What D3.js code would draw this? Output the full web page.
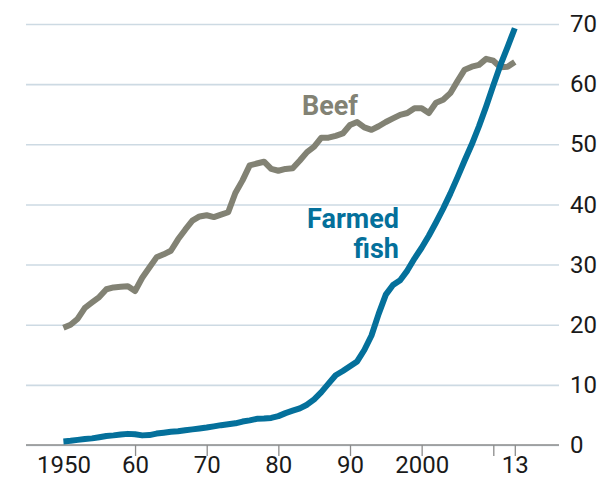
<!DOCTYPE html>
<html>
<head>
<meta charset="utf-8">
<script src="https://cdn.jsdelivr.net/npm/d3@7"></script>
<style>
  html, body { margin: 0; padding: 0; background: #ffffff; }
  svg { display: block; }
</style>
</head>
<body>
<svg id="chart" width="606" height="479"></svg>
<script>
const years = d3.range(1950, 2014);
const beef = [19.5, 20.0, 21.0, 22.8, 23.7, 24.6, 25.9, 26.2, 26.3, 26.4,
  25.6, 27.8, 29.5, 31.2, 31.7, 32.3, 34.2, 35.8, 37.3, 38.0,
  38.2, 37.9, 38.3, 38.7, 41.9, 44.0, 46.5, 46.8, 47.1, 45.9,
  45.6, 45.9, 46.0, 47.3, 48.7, 49.6, 51.1, 51.1, 51.4, 51.8,
  53.2, 53.7, 52.8, 52.4, 53.0, 53.7, 54.3, 54.9, 55.2, 56.0,
  56.0, 55.2, 56.9, 57.4, 58.5, 60.5, 62.4, 62.9, 63.2, 64.2,
  63.9, 62.8, 62.9, 63.7];
const fish = [0.6, 0.7, 0.85, 1.0, 1.1, 1.3, 1.5, 1.6, 1.75, 1.85,
  1.8, 1.6, 1.65, 1.9, 2.05, 2.2, 2.3, 2.45, 2.6, 2.75,
  2.9, 3.1, 3.3, 3.45, 3.6, 3.9, 4.1, 4.35, 4.4, 4.5,
  4.8, 5.3, 5.7, 6.1, 6.7, 7.6, 8.8, 10.2, 11.6, 12.3,
  13.1, 13.9, 15.8, 18.2, 21.8, 25.0, 26.6, 27.4, 29.0, 31.0,
  32.8, 34.8, 37.0, 39.3, 41.8, 44.5, 47.3, 50.0, 53.0, 56.3,
  59.8, 63.2, 66.2, 69.3];
const yTicks = [0, 10, 20, 30, 40, 50, 60, 70];
const xTicks = [1950, 1960, 1970, 1980, 1990, 2000, 2010, 2013];
const xTickLabels = ["1950", "60", "70", "80", "90", "2000", "", "13"];
const seriesLabels = { beef: ["Beef"], fish: ["Farmed", "fish"] };

const beefColor = "#828274";
const fishColor = "#04709b";
const gridColor = "#cddae3";
const axisColor = "#8c8c8c";
const font = "Roboto, 'Open Sans', sans-serif";

const svg = d3.select("#chart");
const x = d3.scaleLinear().domain([1950, 2013]).range([63.4, 514.8]);
const y = d3.scaleLinear().domain([0, 70]).range([445, 24]);
const gridLeft = 26, gridRight = 559;

// Y axis (right) with gridlines
const yAxis = d3.axisRight(y)
  .tickValues(yTicks)
  .tickSize(-(gridRight - gridLeft))
  .tickPadding(11)
  .tickFormat(d3.format("d"));
const gy = svg.append("g")
  .attr("transform", `translate(${gridRight},0)`)
  .call(yAxis);
gy.select(".domain").remove();
gy.selectAll(".tick line")
  .attr("stroke", gridColor)
  .attr("stroke-width", 1.6);
gy.selectAll(".tick text")
  .attr("fill", "#1a1a1a")
  .style("font-family", font)
  .style("font-size", "24px");

// X axis
const xAxis = d3.axisBottom(x)
  .tickValues(xTicks)
  .tickSize(11)
  .tickPadding(0)
  .tickFormat((d, i) => xTickLabels[i]);
const gx = svg.append("g")
  .attr("transform", `translate(0,${y(0)})`)
  .call(xAxis);
gx.select(".domain").remove();
gx.selectAll(".tick line")
  .attr("stroke", axisColor)
  .attr("stroke-width", 1.3)
  .attr("opacity", d => d === 1950 ? 0 : 1);
gx.selectAll(".tick text")
  .attr("fill", "#1a1a1a")
  .style("font-family", font)
  .style("font-size", "24px");

// baseline
svg.append("line")
  .attr("x1", gridLeft).attr("x2", gridRight)
  .attr("y1", y(0)).attr("y2", y(0))
  .attr("stroke", axisColor)
  .attr("stroke-width", 1.6);

const line = d3.line()
  .x((d, i) => x(years[i]))
  .y(d => y(d));

svg.append("path")
  .datum(beef)
  .attr("d", line)
  .attr("fill", "none")
  .attr("stroke", beefColor)
  .attr("stroke-width", 6)
  .attr("stroke-linejoin", "round");

svg.append("path")
  .datum(fish)
  .attr("d", line)
  .attr("fill", "none")
  .attr("stroke", fishColor)
  .attr("stroke-width", 6)
  .attr("stroke-linejoin", "round");

// Labels
svg.append("text")
  .attr("x", 330).attr("y", 115)
  .attr("text-anchor", "middle")
  .attr("fill", beefColor)
  .style("font-family", font)
  .style("font-weight", "bold")
  .style("font-size", "27px")
  .text(seriesLabels.beef[0]);

const fl = svg.append("text")
  .attr("text-anchor", "end")
  .attr("fill", fishColor)
  .style("font-family", font)
  .style("font-weight", "bold")
  .style("font-size", "27px");
seriesLabels.fish.forEach((t, i) => {
  fl.append("tspan").attr("x", 399).attr("y", 228 + i * 30).text(t);
});
</script>
</body>
</html>
